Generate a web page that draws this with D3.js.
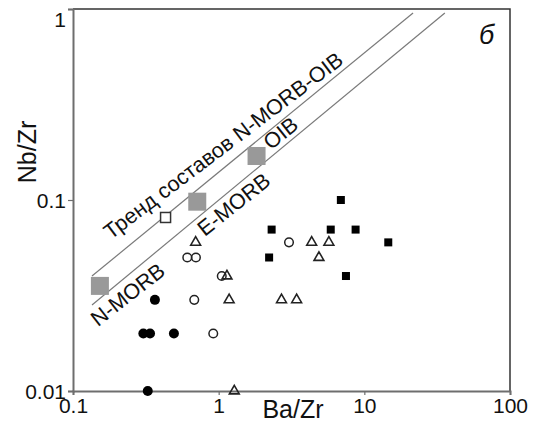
<!DOCTYPE html>
<html>
<head>
<meta charset="utf-8">
<script src="https://cdn.jsdelivr.net/npm/d3@7"></script>
<style>
  html, body { margin: 0; padding: 0; background: #fff; }
  svg { display: block; font-family: "Liberation Sans", Arial, sans-serif; }
</style>
</head>
<body>
<svg id="chart" width="534" height="425"></svg>
<script>
// Axis ticks
const xTicks = [0.1, 1, 10, 100];
const xTickLabels = ["0.1", "1", "10", "100"];
const yTicks = [0.01, 0.1, 1];
const yTickLabels = ["0.01", "0.1", "1"];

// Reference compositions (grey squares)
const refNames = ["N-MORB", "E-MORB", "OIB"];
const refBaZr = [0.153, 0.713, 1.82];
const refNbZr = [0.0355, 0.098, 0.170];

// Trend lines of N-MORB–OIB compositions: [Ba/Zr, Nb/Zr] end points
const upperTrendBaZr = [0.135, 21.6];
const upperTrendNbZr = [0.040, 0.953];
const lowerTrendBaZr = [0.135, 35.7];
const lowerTrendNbZr = [0.0282, 0.953];

// Sample groups
const openSquareBaZr = [0.432];
const openSquareNbZr = [0.081];

const filledCircleBaZr = [0.365, 0.304, 0.338, 0.493, 0.326];
const filledCircleNbZr = [0.03, 0.02, 0.02, 0.02, 0.01];

const openCircleBaZr = [0.609, 0.698, 0.68, 0.918, 1.05, 3.04];
const openCircleNbZr = [0.05, 0.05, 0.03, 0.02, 0.04, 0.06];

const triangleBaZr = [0.695, 1.14, 1.18, 1.28, 4.35, 5.71, 4.88, 2.70, 3.43];
const triangleNbZr = [0.06, 0.04, 0.03, 0.01, 0.06, 0.06, 0.05, 0.03, 0.03];

const filledSquareBaZr = [6.9, 2.31, 5.88, 8.71, 2.22, 7.48, 14.6];
const filledSquareNbZr = [0.1, 0.07, 0.07, 0.07, 0.05, 0.04, 0.06];

const svg = d3.select("#chart");
const plotLeft = 73, plotRight = 510, plotTop = 9, plotBottom = 391;

const x = d3.scaleLog().domain([0.1, 100]).range([plotLeft, plotRight]);
const y = d3.scaleLog().domain([0.01, 1]).range([plotBottom, plotTop]);

const zip = (a, b) => a.map((v, i) => [v, b[i]]);

// Frame: top and right edges
svg.append("path")
  .attr("d", `M${plotLeft},${plotTop}H${plotRight}V${plotBottom}`)
  .attr("fill", "none").attr("stroke", "#333").attr("stroke-width", 1.5);

// X axis
const xAxis = svg.append("g")
  .attr("transform", `translate(0,${plotBottom})`)
  .call(d3.axisBottom(x).tickValues(xTicks).tickSize(4)
        .tickFormat((d, i) => xTickLabels[i]));
// Y axis
const yAxis = svg.append("g")
  .attr("transform", `translate(${plotLeft},0)`)
  .call(d3.axisLeft(y).tickValues(yTicks).tickSize(5)
        .tickFormat((d, i) => yTickLabels[i]));

[xAxis, yAxis].forEach(g => {
  g.select(".domain").attr("stroke", "#6e6e6e").attr("stroke-width", 2);
  g.selectAll(".tick line").attr("stroke", "#6e6e6e").attr("stroke-width", 1.2);
  g.selectAll(".tick text")
    .attr("fill", "#111")
    .style("font-size", "21px")
    .style("font-family", "'Liberation Sans', Arial, sans-serif");
});
xAxis.selectAll(".tick text").attr("y", 22).attr("dy", 0);
yAxis.selectAll(".tick text").attr("x", -7).attr("dy", "0.35em");
// The top label sits just below its tick
yAxis.selectAll(".tick text").filter(d => d === 1).attr("dy", "0.85em");

// Axis titles
svg.append("text")
  .attr("x", 293).attr("y", 418)
  .attr("text-anchor", "middle")
  .attr("fill", "#111")
  .style("font-size", "25px")
  .text("Ba/Zr");
svg.append("text")
  .attr("transform", "translate(36,152) rotate(-90)")
  .attr("text-anchor", "middle")
  .attr("fill", "#111")
  .style("font-size", "25px")
  .text("Nb/Zr");

// Panel letter
svg.append("text")
  .attr("x", 479).attr("y", 44)
  .attr("fill", "#111")
  .style("font-size", "27px")
  .style("font-style", "italic")
  .text("б");

// Trend lines
const line = d3.line().x(d => x(d[0])).y(d => y(d[1]));
const trends = [zip(upperTrendBaZr, upperTrendNbZr), zip(lowerTrendBaZr, lowerTrendNbZr)];
svg.selectAll("path.trend").data(trends).join("path")
  .attr("class", "trend")
  .attr("d", line)
  .attr("fill", "none")
  .attr("stroke", "#7a7a7a")
  .attr("stroke-width", 1.2);

// Labels placed along a trend line: foot point at a given Ba/Zr,
// offset perpendicular to the line (positive = below the line)
function pointOnTrend(t, bz) {
  const [p0, p1] = t;
  const f = (Math.log10(bz) - Math.log10(p0[0])) / (Math.log10(p1[0]) - Math.log10(p0[0]));
  const ly = Math.log10(p0[1]) + f * (Math.log10(p1[1]) - Math.log10(p0[1]));
  return [x(bz), y(Math.pow(10, ly))];
}
function trendAngle(t) {
  const [p0, p1] = t;
  return Math.atan2(y(p1[1]) - y(p0[1]), x(p1[0]) - x(p0[0]));
}
const trendLabels = [
  { text: "Тренд составов N-MORB-OIB", trend: 0, bz: 0.213, offset: -16, tilt: 2.2 },
  { text: "N-MORB", trend: 1, bz: 0.12, offset: 21, tilt: 1.5 },
  { text: "E-MORB", trend: 1, bz: 0.66, offset: 19.5, tilt: 1.0 },
  { text: "OIB", trend: 1, bz: 2.4, offset: -5, tilt: 1.0 }
];
trendLabels.forEach(l => {
  const t = trends[l.trend];
  const a = trendAngle(t);
  const [fx, fy] = pointOnTrend(t, l.bz);
  const nx = -Math.sin(a), ny = Math.cos(a); // normal pointing below the line
  const px = fx + nx * l.offset, py = fy + ny * l.offset;
  svg.append("text")
    .attr("transform", `translate(${px},${py}) rotate(${a * 180 / Math.PI + l.tilt})`)
    .attr("fill", "#111")
    .style("font-size", "21.5px")
    .text(l.text);
});

// Reference composition squares
svg.selectAll("rect.ref").data(zip(refBaZr, refNbZr)).join("rect")
  .attr("class", "ref")
  .attr("x", d => x(d[0]) - 9).attr("y", d => y(d[1]) - 9)
  .attr("width", 18).attr("height", 18)
  .attr("fill", "#999");

// Open square
svg.selectAll("rect.osq").data(zip(openSquareBaZr, openSquareNbZr)).join("rect")
  .attr("class", "osq")
  .attr("x", d => x(d[0]) - 5).attr("y", d => y(d[1]) - 5)
  .attr("width", 10).attr("height", 10)
  .attr("fill", "#fff").attr("stroke", "#333").attr("stroke-width", 1.5);

// Filled squares
svg.selectAll("rect.fsq").data(zip(filledSquareBaZr, filledSquareNbZr)).join("rect")
  .attr("class", "fsq")
  .attr("x", d => x(d[0]) - 4).attr("y", d => y(d[1]) - 4)
  .attr("width", 8).attr("height", 8)
  .attr("fill", "#000");

// Open circles
svg.selectAll("circle.oc").data(zip(openCircleBaZr, openCircleNbZr)).join("circle")
  .attr("class", "oc")
  .attr("cx", d => x(d[0])).attr("cy", d => y(d[1]))
  .attr("r", 4.3)
  .attr("fill", "none").attr("stroke", "#222").attr("stroke-width", 1.5);

// Open triangles
const tri = d3.symbol().type(d3.symbolTriangle).size(42);
svg.selectAll("path.tri").data(zip(triangleBaZr, triangleNbZr)).join("path")
  .attr("class", "tri")
  .attr("d", tri)
  .attr("transform", d => `translate(${x(d[0])},${y(d[1])})`)
  .attr("fill", "none").attr("stroke", "#222").attr("stroke-width", 1.6);

// Filled circles
svg.selectAll("circle.fc").data(zip(filledCircleBaZr, filledCircleNbZr)).join("circle")
  .attr("class", "fc")
  .attr("cx", d => x(d[0])).attr("cy", d => y(d[1]))
  .attr("r", 5)
  .attr("fill", "#000");
</script>
</body>
</html>
